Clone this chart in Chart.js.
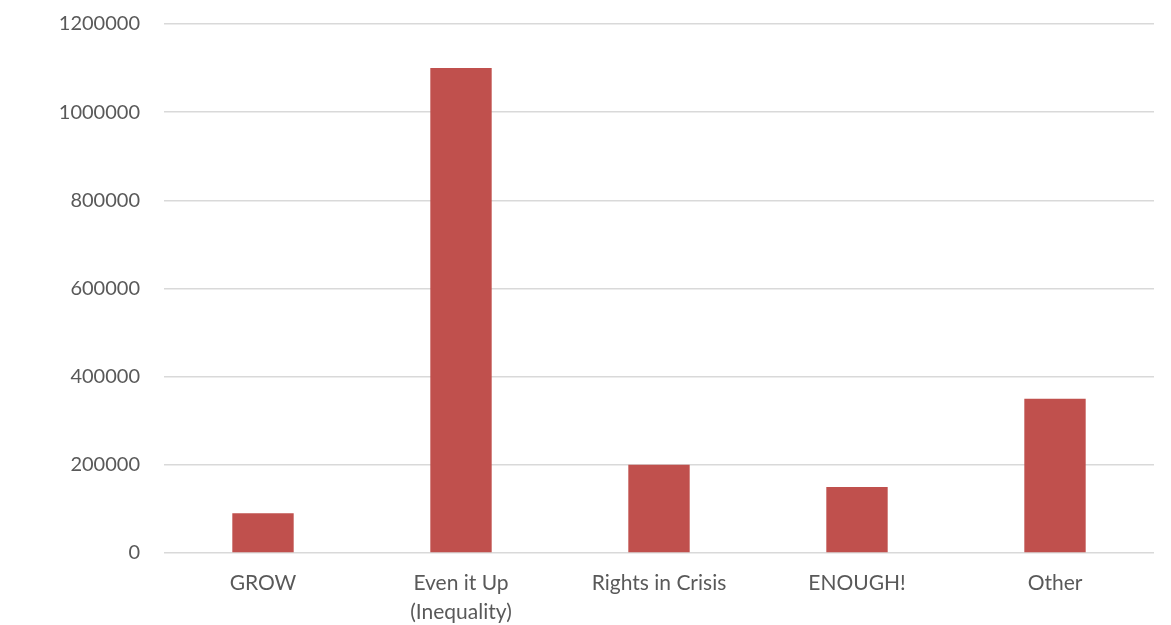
<!DOCTYPE html>
<html>
<head>
<meta charset="utf-8">
<script src="https://cdn.jsdelivr.net/npm/chart.js@4/dist/chart.umd.min.js"></script>
<style>
  html, body { margin: 0; padding: 0; background: #ffffff; }
  #wrap { width: 1171px; height: 625px; }
</style>
</head>
<body>
<div id="wrap"><canvas id="myChart" width="1171" height="625"></canvas></div>
<script>
    // categories and values
    const labels = ["GROW", ["Even it Up", "(Inequality)"], "Rights in Crisis", "ENOUGH!", "Other"];
    const values = [90000, 1100000, 200000, 150000, 350000];
    const yTicks = [0, 200000, 400000, 600000, 800000, 1000000, 1200000];

    const BAR_RED = '#C0504D';
    const GRID_GREY = '#D9D9D9';
    const TEXT_GREY = '#595959';

    Chart.defaults.font.family = 'Lato, "Open Sans", sans-serif';
    Chart.defaults.font.size = 20;
    Chart.defaults.color = TEXT_GREY;

    const data = {
      labels: labels,
      datasets: [
        {
          label: 'Series 1',
          data: values,
          backgroundColor: BAR_RED,
          borderWidth: 0,
          barPercentage: 0.62,
          categoryPercentage: 0.5
        }
      ]
    };

    const config = {
      type: 'bar',
      data: data,
      options: {
        responsive: false,
        animation: false,
        layout: {
          padding: { left: 0, right: 17, top: 24, bottom: 0 }
        },
        plugins: {
          legend: { display: false },
          tooltip: { enabled: false }
        },
        scales: {
          x: {
            grid: { display: false, drawTicks: false },
            border: { display: false },
            ticks: { padding: 16, maxRotation: 0, autoSkip: false, font: { size: 21, lineHeight: 1.38 } },
            afterFit: function (scale) { scale.height = 625 - 553; }
          },
          y: {
            min: 0,
            max: 1200000,
            afterBuildTicks: function (scale) {
              scale.ticks = yTicks.map(v => ({ value: v }));
            },
            grid: { color: GRID_GREY, lineWidth: 1.5, drawTicks: false },
            border: { display: false },
            ticks: { padding: 24, callback: v => String(v) },
            afterFit: function (scale) {
              scale.width = 164;
              scale.paddingTop = 0;
              scale.paddingBottom = 0;
            }
          }
        }
      }
    };

    const myChart = new Chart(document.getElementById('myChart'), config);
</script>
</body>
</html>
